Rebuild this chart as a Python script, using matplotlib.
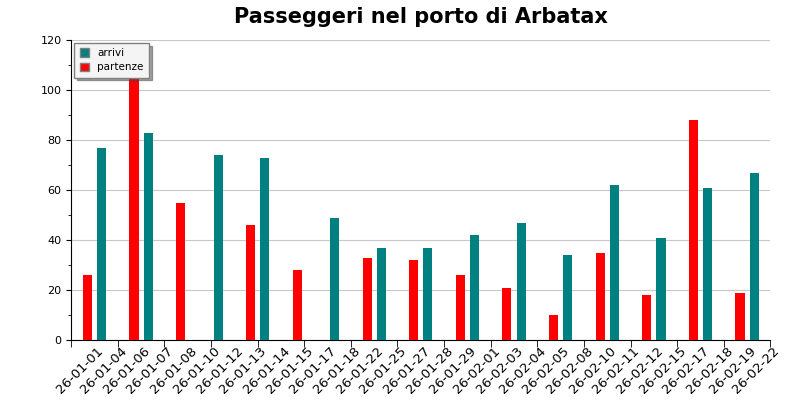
import matplotlib
matplotlib.use("Agg")
import matplotlib.pyplot as plt
import numpy as np
from matplotlib.ticker import MultipleLocator, FixedLocator
import matplotlib.transforms as mtrans

dates = ["26-01-01","26-01-04","26-01-06","26-01-07","26-01-08","26-01-10","26-01-12","26-01-13",
         "26-01-14","26-01-15","26-01-17","26-01-18","26-01-22","26-01-25","26-01-27","26-01-28",
         "26-01-29","26-02-01","26-02-03","26-02-04","26-02-05","26-02-08","26-02-10","26-02-11",
         "26-02-12","26-02-15","26-02-17","26-02-18","26-02-19","26-02-22"]
arrivi =   [0,77,0,83,0,0,74,0,73,0,0,49,0,37,0,37,0,42,0,47,0,34,0,62,0,41,0,61,0,67]
partenze = [26,0,106,0,55,0,0,46,0,28,0,0,33,0,32,0,26,0,21,0,10,0,35,0,18,0,88,0,19,0]

fig = plt.figure(figsize=(8,4), dpi=100)
ax = fig.add_axes([0.089, 0.15, 0.874, 0.75])
x = np.arange(len(dates))
w = 0.39
ax.bar(x - w/2, arrivi, w, color="#008080", label="arrivi", zorder=3)
ax.bar(x + w/2, partenze, w, color="#ff0000", label="partenze", zorder=3)
ax.set_xlim(-0.5, len(dates)-0.5)
ax.set_ylim(0, 120)
ax.yaxis.set_major_locator(MultipleLocator(20))
ax.yaxis.set_minor_locator(MultipleLocator(10))
ax.grid(axis="y", color="#c8c8c8", linewidth=0.8, zorder=0)
ax.set_xticks(x)
ax.set_xticklabels(dates, rotation=45, ha="right", rotation_mode="anchor", fontsize=9.5)
ax.tick_params(axis="x", length=0, pad=3)
off = mtrans.ScaledTranslation(10/72, 0, fig.dpi_scale_trans)
for lab in ax.get_xticklabels():
    lab.set_transform(lab.get_transform() + off)
ax.xaxis.set_minor_locator(FixedLocator(np.arange(-0.5, len(dates), 2)))
ax.tick_params(axis="x", which="minor", length=5)
ax.tick_params(axis="y", labelsize=8)
for s in ["top","right"]:
    ax.spines[s].set_visible(False)
ax.set_title("Passeggeri nel porto di Arbatax", fontsize=15, fontweight="bold", pad=12)
leg = ax.legend(loc="upper left", fontsize=7.5, fancybox=False, shadow=True,
                framealpha=1, facecolor="#f4f4f4", edgecolor="#808080", borderaxespad=0.3,
                handlelength=0.9, handleheight=0.9, borderpad=0.5, labelspacing=0.4)
for p in leg.get_patches():
    p.set_edgecolor("#808080")
fig.savefig("out.png")
